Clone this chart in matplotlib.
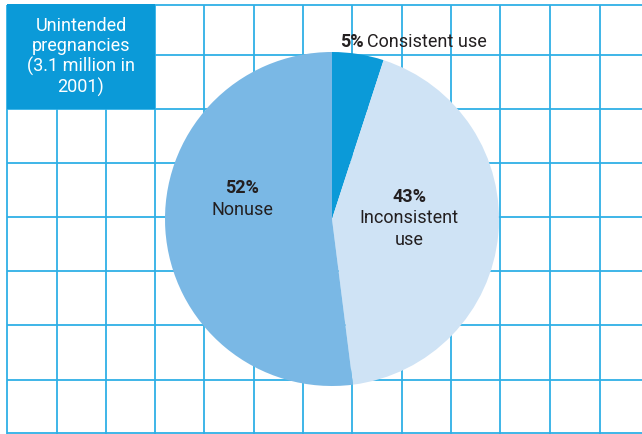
import matplotlib
matplotlib.use("Agg")
import matplotlib.pyplot as plt
from matplotlib.patches import Rectangle

# ---- data ----
categories = ["Consistent use", "Inconsistent\nuse", "Nonuse"]
values = [5, 43, 52]
colors = ["#0b9ad8", "#cfe3f5", "#7ab8e5"]
title_lines = "Unintended\npregnancies\n(3.1 million in\n2001)"

FAM = ["Liberation Sans Narrow", "Roboto", "DejaVu Sans"]
TXT = "#231f20"
GRID = "#2fb0e6"

W, H = 642, 435
fig = plt.figure(figsize=(W / 100, H / 100), dpi=100)
fig.patch.set_facecolor("white")

# background grid axes in pixel coordinates
bg = fig.add_axes([0, 0, 1, 1])
bg.set_xlim(0, W)
bg.set_ylim(H, 0)
bg.axis("off")

vlines = [7, 57, 106, 155, 204, 254, 303, 352, 402, 451, 500, 550, 600]
hlines = [6, 56, 110, 164, 218, 272, 326, 381, 434]
for x in vlines:
    bg.plot([x, x], [6, H], color=GRID, lw=1.3, solid_capstyle="butt")
for y in hlines:
    bg.plot([7, W], [y, y], color=GRID, lw=1.3, solid_capstyle="butt")

# title box
bg.add_patch(Rectangle((7, 5), 148, 105, facecolor="#0b9ad8", edgecolor="none", zorder=3))
bg.text(81, 57, title_lines, ha="center", va="center", color="white",
        fontsize=13, family=FAM, linespacing=1.15, zorder=4)

# pie axes
cx, cy, r = 332, 220, 167
pax = fig.add_axes([(cx - r) / W, (H - cy - r) / H, 2 * r / W, 2 * r / H])
pax.pie(values, colors=colors, startangle=90, counterclock=False,
        wedgeprops=dict(linewidth=0))
pax.set_xlim(-1, 1)
pax.set_ylim(-1, 1)
pax.axis("off")

# overlay axes for labels
ov = fig.add_axes([0, 0, 1, 1])
ov.set_xlim(0, W)
ov.set_ylim(H, 0)
ov.axis("off")
ov.patch.set_alpha(0)

pct = [f"{v}%" for v in values]
fs = 13
# consistent use label (outside, above)
ov.text(364, 42, pct[0], ha="right", va="center", color=TXT, fontsize=fs,
        family=FAM, fontweight="bold")
ov.text(367, 42, categories[0], ha="left", va="center", color=TXT, fontsize=fs,
        family=FAM)
# inconsistent
ov.text(409, 197, pct[1], ha="center", va="center", color=TXT, fontsize=fs,
        family=FAM, fontweight="bold")
ov.text(409, 229, categories[1], ha="center", va="center", color=TXT, fontsize=fs,
        family=FAM, linespacing=1.25)
# nonuse
ov.text(242, 188, pct[2], ha="center", va="center", color=TXT, fontsize=fs,
        family=FAM, fontweight="bold")
ov.text(242, 210, categories[2], ha="center", va="center", color=TXT, fontsize=fs,
        family=FAM)

fig.savefig("out.png", dpi=100)
